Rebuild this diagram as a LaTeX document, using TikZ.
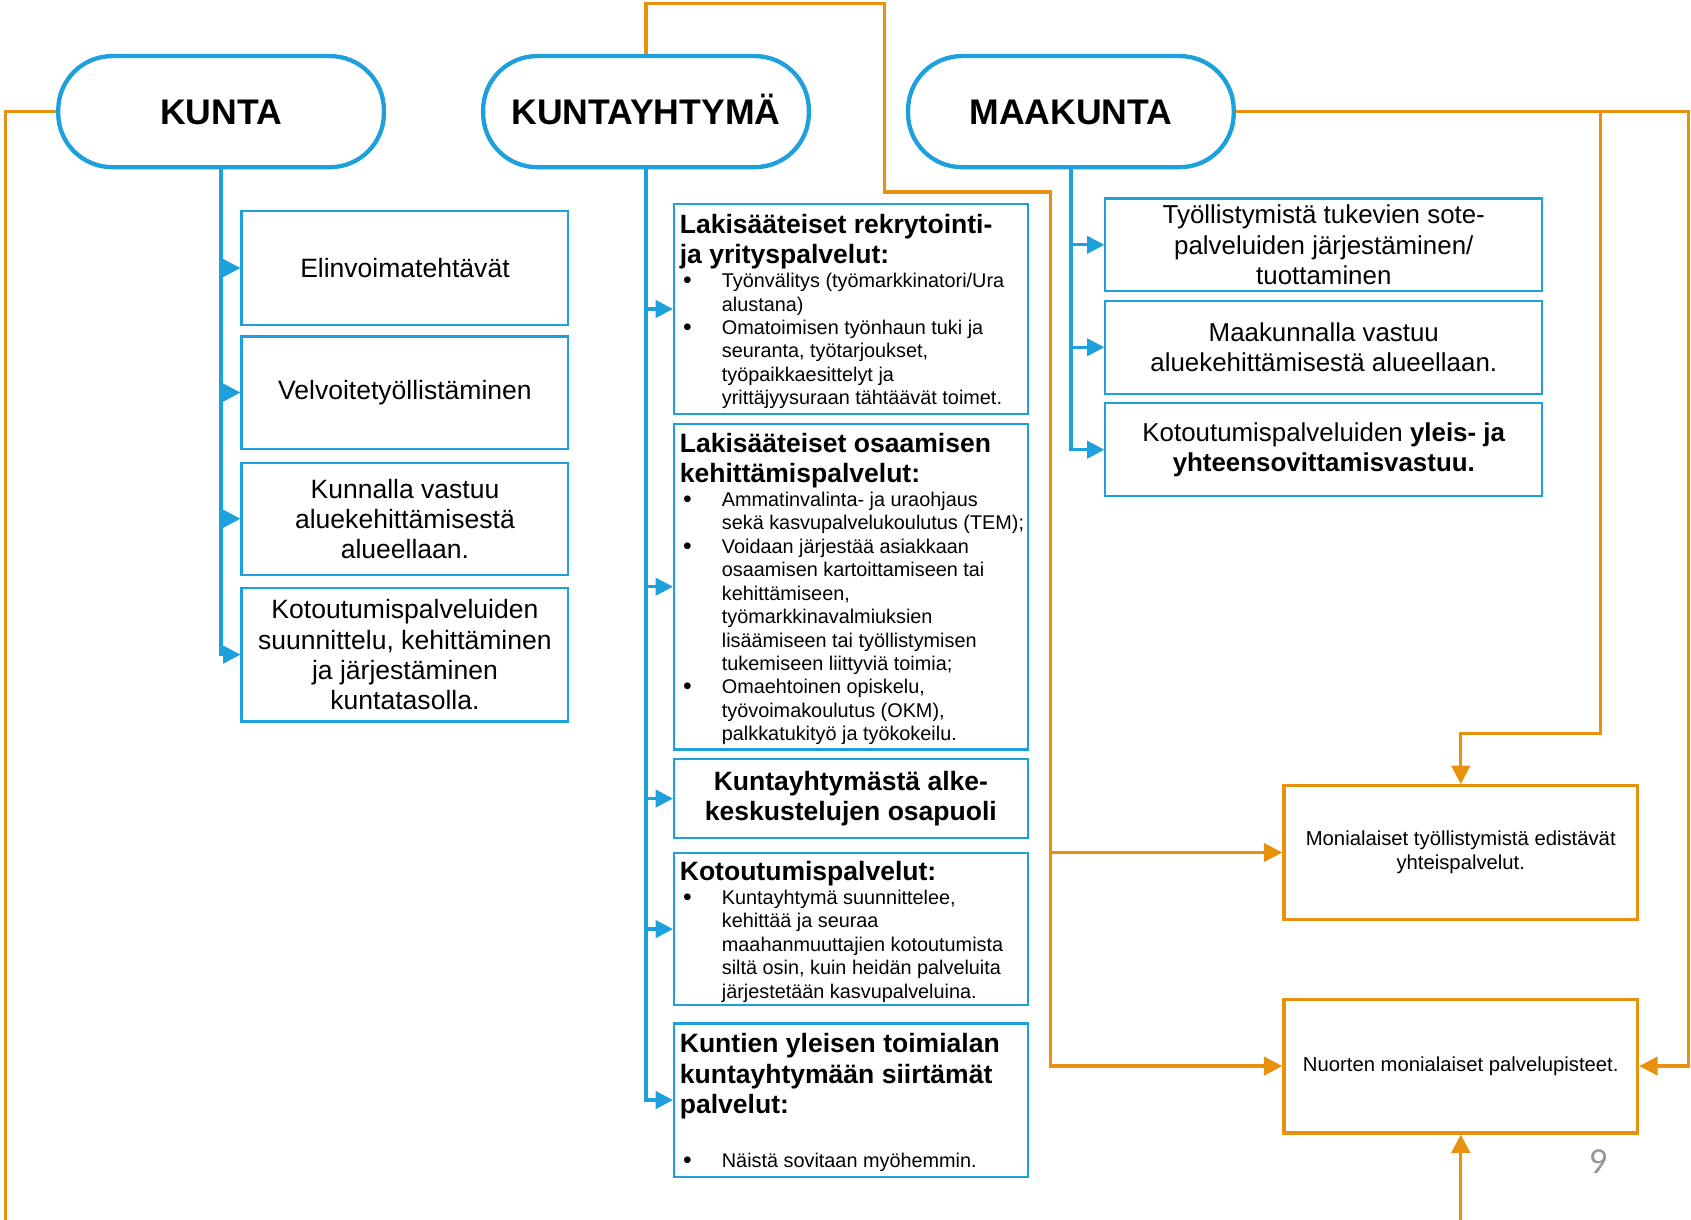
\documentclass[tikz,border=0pt]{standalone}
\usepackage{fontspec}
\setmainfont{Liberation Sans}
\newfontfamily\pagenumfont{Carlito}
\usetikzlibrary{arrows.meta}
\definecolor{cblue}{RGB}{29,160,219}
\definecolor{corange}{RGB}{232,145,14}
\definecolor{cgray}{RGB}{150,150,150}
\newcommand\bulx{\hspace*{1.5pt}\makebox[18pt][l]{\raisebox{-0.3pt}{\fontsize{11.5}{10.85}\selectfont\textbullet}}}
\newcommand\indx{\hspace*{19.5pt}}
\begin{document}
\begin{tikzpicture}[x=0.5pt,y=-0.5pt,
  stadium/.style={draw=cblue, line width=2pt, rounded corners=25pt, minimum width=151pt, minimum height=51.5pt, fill=white, inner sep=0pt, text height=11.8pt, text depth=0pt, font=\fontsize{16.5}{20}\selectfont\bfseries},
  kbox/.style={draw=cblue, line width=1pt, minimum width=151.5pt, align=center, inner sep=0pt, font=\fontsize{12.3}{14}\selectfont},
  ybox/.style={draw=cblue, line width=1pt, minimum width=164pt, align=center, inner sep=0pt},
  mbox/.style={draw=cblue, line width=1pt, minimum width=202.5pt, minimum height=43pt, align=center, inner sep=0pt, font=\fontsize{12}{14}\selectfont},
  obox/.style={draw=corange, line width=1.5pt, minimum width=164pt, minimum height=62pt, align=center, inner sep=0pt, font=\fontsize{9.4}{11}\selectfont},
  ttl/.style={anchor=north west, align=left, inner sep=0pt, font=\fontsize{12.3}{14}\selectfont\bfseries},
  bls/.style={anchor=north west, align=left, inner sep=0pt, font=\fontsize{9.2}{10.85}\selectfont},
  bline/.style={draw=cblue, line width=1.5pt},
  barrow/.style={bline, -{Triangle[length=8pt,width=8pt]}},
  oline/.style={draw=corange, line width=1.5pt},
  oarrow/.style={oline, -{Triangle[length=8.5pt,width=8.5pt]}}
]
\useasboundingbox (0,0) rectangle (1568,1131);

% header stadiums
\node[stadium] (ks) at (205,103.5) {KUNTA};
\node[stadium] (kys) at (599,103.5) {KUNTAYHTYMÄ};
\node[stadium] (ms) at (993,103.5) {MAAKUNTA};

% KUNTA boxes
\node[kbox, minimum height=52.5pt] (kb1) at (375.5,248.5) {Elinvoimatehtävät};
\node[kbox, minimum height=52pt] (kb2) at (375.5,364) {Velvoitetyöllistäminen};
\node[kbox, minimum height=52pt] (kb3) at (375.5,481) {Kunnalla vastuu\\aluekehittämisestä\\alueellaan.};
\node[kbox, minimum height=62pt] (kb4) at (375.5,607) {Kotoutumispalveluiden\\suunnittelu, kehittäminen\\ja järjestäminen\\kuntatasolla.};

% KUNTAYHTYMA boxes
\node[ybox, minimum height=97.5pt] (yb1) at (789,286.5) {};
\node[ttl] (yb1t) at (630,198) {Lakisääteiset rekrytointi-\\ja yrityspalvelut:};
\node[bls] (yb1l) at (630,253) {\bulx Työnvälitys (työmarkkinatori/Ura\\\indx alustana)\\\bulx Omatoimisen työnhaun tuki ja\\\indx seuranta, työtarjoukset,\\\indx työpaikkaesittelyt ja\\\indx yrittäjyysuraan tähtäävät toimet.};

\node[ybox, minimum height=151pt] (yb2) at (789,544) {};
\node[ttl] (yb2t) at (630,401) {Lakisääteiset osaamisen\\kehittämispalvelut:};
\node[bls] (yb2l) at (630,456) {\bulx Ammatinvalinta- ja uraohjaus\\\indx sekä kasvupalvelukoulutus (TEM);\\\bulx Voidaan järjestää asiakkaan\\\indx osaamisen kartoittamiseen tai\\\indx kehittämiseen,\\\indx työmarkkinavalmiuksien\\\indx lisäämiseen tai työllistymisen\\\indx tukemiseen liittyviä toimia;\\\bulx Omaehtoinen opiskelu,\\\indx työvoimakoulutus (OKM),\\\indx palkkatukityö ja työkokeilu.};

\node[ybox, minimum height=36.5pt, font=\fontsize{12.3}{14}\selectfont\bfseries] (yb3) at (789,740.5) {Kuntayhtymästä alke-\\keskustelujen osapuoli};

\node[ybox, minimum height=70.5pt] (yb4) at (789,861.5) {};
\node[ttl] (yb4t) at (630,798) {Kotoutumispalvelut:};
\node[bls] (yb4l) at (630,825) {\bulx Kuntayhtymä suunnittelee,\\\indx kehittää ja seuraa\\\indx maahanmuuttajien kotoutumista\\\indx siltä osin, kuin heidän palveluita\\\indx järjestetään kasvupalveluina.};

\node[ybox, minimum height=71pt] (yb5) at (789,1020) {};
\node[ttl] (yb5t) at (630,958) {Kuntien yleisen toimialan\\kuntayhtymään siirtämät\\palvelut:};
\node[bls] (yb5l) at (630,1069) {\bulx Näistä sovitaan myöhemmin.};

% MAAKUNTA boxes
\node[mbox] (mb1) at (1227.5,227) {Työllistymistä tukevien sote-\\palveluiden järjestäminen/\\tuottaminen};
\node[mbox] (mb2) at (1227.5,322) {Maakunnalla vastuu\\aluekehittämisestä alueellaan.};
\node[mbox] (mb3) at (1227.5,417) {Kotoutumispalveluiden \textbf{yleis- ja}\\\textbf{yhteensovittamisvastuu.}};

% orange boxes
\node[obox] (ob1) at (1354.5,790.5) {Monialaiset työllistymistä edistävät\\yhteispalvelut.};
\node[obox] (ob2) at (1354.5,988.5) {Nuorten monialaiset palvelupisteet.};

% page number
\node[font=\pagenumfont\fontsize{17}{20}\selectfont, text=cgray, inner sep=0pt] (pg) at (1482,1077) {9};

% blue connectors
\draw[barrow] (ks.south) |- (kb4.west);
\draw[barrow] (ks.south |- kb1.west) -- (kb1.west);
\draw[barrow] (ks.south |- kb2.west) -- (kb2.west);
\draw[barrow] (ks.south |- kb3.west) -- (kb3.west);

\draw[barrow] (kys.south) |- (yb5.west);
\draw[barrow] (kys.south |- yb1.west) -- (yb1.west);
\draw[barrow] (kys.south |- yb2.west) -- (yb2.west);
\draw[barrow] (kys.south |- yb3.west) -- (yb3.west);
\draw[barrow] (kys.south |- yb4.west) -- (yb4.west);

\draw[barrow] (ms.south) |- (mb3.west);
\draw[barrow] (ms.south |- mb1.west) -- (mb1.west);
\draw[barrow] (ms.south |- mb2.west) -- (mb2.west);

% orange connectors
\coordinate (kl) at (5,1131);
\draw[oline] (ks.west) -| (kl);

\coordinate (t1) at (820,3);
\coordinate (t2) at (974,178);
\draw[oarrow] (kys.north) |- (t1) |- (t2) |- (ob2.west);
\draw[oarrow] (t2 |- ob1.west) -- (ob1.west);

\coordinate (rx) at (1566,0);
\draw[oarrow] (ms.east) -| (rx |- ob2.east) -- (ob2.east);
\coordinate (bx) at (1484,680);
\draw[oarrow] (ms.east -| bx) -- (bx) -| (ob1.north);

\coordinate (bb) at (1355,1131);
\draw[oarrow] (ob2.south |- bb) -- (ob2.south);
\end{tikzpicture}
\end{document}
